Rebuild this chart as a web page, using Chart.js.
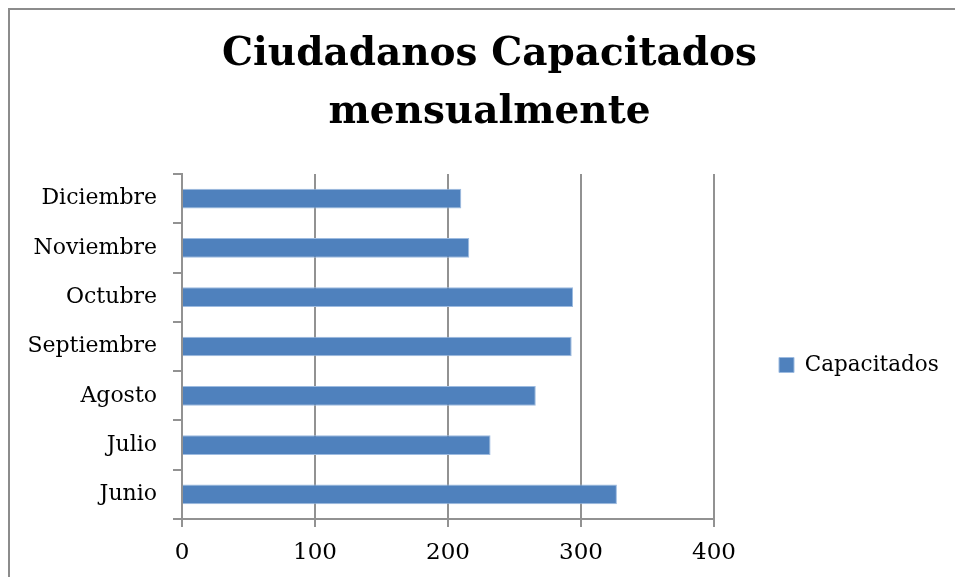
<!DOCTYPE html>
<html>
<head>
<meta charset="utf-8">
<script src="https://cdn.jsdelivr.net/npm/chart.js@4.4.1/dist/chart.umd.min.js"></script>
<style>
  html, body { margin:0; padding:0; background:#fff; overflow:hidden; }
  #wrap { position:absolute; left:0; top:0; width:979px; height:577px; }
  #frame { position:absolute; left:8px; top:8px; width:1000px; height:1000px;
           border-left:2px solid #8c8c8c; border-top:2px solid #8c8c8c; pointer-events:none; }
</style>
</head>
<body>
<div id="wrap"><canvas id="chart" width="979" height="577"></canvas></div>
<div id="frame"></div>
<script>
const months = ['Junio','Julio','Agosto','Septiembre','Octubre','Noviembre','Diciembre'];
const capacitados = [327, 232, 266, 293, 294, 216, 210];
const xTicks = [0, 100, 200, 300, 400];
const seriesName = 'Capacitados';
const titleLines = ['Ciudadanos Capacitados', 'mensualmente'];

const FONT = "'DejaVu Serif', serif";
const AXIS_GREY = '#929292';
const LEGEND_W = 265;   // keeps plot right edge at 400 = x 714

// legend width is otherwise only text based; pin it so the title stays centred on the frame
const legendWidth = {
  id:'legendWidth',
  beforeLayout(chart){
    const lg = chart.legend;
    if(!lg || lg._pinned) return;
    const fit = lg.fit;
    lg.fit = function(){ fit.call(this); this.width = LEGEND_W; };
    lg._pinned = true;
  }
};

new Chart(document.getElementById('chart'), {
  type:'bar',
  data:{
    labels: months,
    datasets:[{
      label: seriesName,
      data: capacitados,
      backgroundColor:'#4f81bd',
      borderColor:'#9dbbe0',
      borderWidth:1,
      barPercentage:0.4,
      categoryPercentage:1
    }]
  },
  options:{
    indexAxis:'y',
    responsive:false,
    animation:false,
    layout:{ padding:0 },
    plugins:{
      title:{
        display:true,
        text: titleLines,
        color:'#000',
        font:{ family:FONT, size:39, weight:'bold', lineHeight:58/39 },
        padding:{ top:26, bottom:32 }
      },
      legend:{
        position:'right',
        align:'center',
        fullSize:false,
        title:{ display:true, text:'', font:{ size:10, lineHeight:1 }, padding:{ top:0, bottom:27 } },
        labels:{
          color:'#000',
          font:{ family:FONT, size:21.5 },
          boxWidth:15, boxHeight:15,
          padding:65
        }
      },
      tooltip:{ enabled:false }
    },
    scales:{
      x:{
        min:0, max:400,
        afterBuildTicks: s => { s.ticks = xTicks.map(v => ({ value:v })); },
        afterFit: s => { s.height = 577 - 519; },
        grid:{ color:AXIS_GREY, lineWidth:2, tickLength:8 },
        border:{ display:true, color:AXIS_GREY, width:2 },
        ticks:{ color:'#000', font:{ family:FONT, size:23 }, padding:12 }
      },
      y:{
        reverse:true,
        afterFit: s => { s.width = 182; },
        grid:{ display:true, drawOnChartArea:false, color:AXIS_GREY, lineWidth:2, tickLength:9 },
        border:{ display:true, color:AXIS_GREY, width:2 },
        ticks:{ color:'#000', font:{ family:FONT, size:22 }, padding:16 }
      }
    }
  },
  plugins:[legendWidth]
});
</script>
</body>
</html>
